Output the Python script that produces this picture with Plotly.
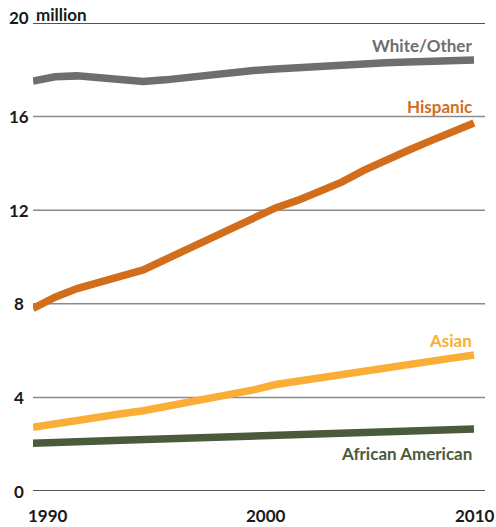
import plotly.graph_objects as go

years = list(range(1990, 2011))
white_other = [17.52, 17.70, 17.74, 17.65, 17.55, 17.50, 17.57, 17.68, 17.80, 17.90, 17.97,
               18.03, 18.10, 18.17, 18.22, 18.25, 18.30, 18.33, 18.36, 18.38, 18.42]
hispanic = [7.80, 8.28, 8.65, 8.95, 9.18, 9.45, 9.90, 10.35, 10.80, 11.25, 11.72,
            12.10, 12.42, 12.80, 13.20, 13.70, 14.15, 14.55, 14.95, 15.32, 15.73]
asian = [2.72, 2.88, 3.04, 3.15, 3.30, 3.43, 3.60, 3.78, 3.98, 4.17, 4.32,
         4.55, 4.70, 4.85, 4.98, 5.15, 5.30, 5.43, 5.55, 5.68, 5.81]
african_american = [2.04, 2.10, 2.13, 2.14, 2.17, 2.20, 2.21, 2.23, 2.26, 2.28, 2.30,
                    2.32, 2.34, 2.38, 2.41, 2.44, 2.46, 2.49, 2.54, 2.59, 2.65]

series_names = ["White/Other", "Hispanic", "Asian", "African American"]
series_values = [white_other, hispanic, asian, african_american]
series_colors = ["#6e6e6e", "#d26d1c", "#fbae35", "#4a5b3c"]
label_y = [19.05, 16.45, 6.45, 1.62]

y_tick_vals = [0, 4, 8, 12, 16, 20]
y_tick_text = ["0", "4", "8", "12", "16", "20"]
x_tick_pos = [1990.68, 2000.57, 2010.05]
x_tick_text = ["1990", "2000", "2010"]

FONT = "Lato"
FS = 17

fig = go.Figure()
for name, vals, col in zip(series_names, series_values, series_colors):
    fig.add_trace(go.Scatter(x=years, y=vals, mode="lines", name=name,
                             line=dict(color=col, width=7.5), showlegend=False,
                             hoverinfo="skip"))

annotations = []
for name, col, ly in zip(series_names, series_colors, label_y):
    annotations.append(dict(x=2010, y=ly, xref="x", yref="y", text=f"<b>{name}</b>",
                            showarrow=False, xanchor="right", yanchor="middle",
                            font=dict(family=FONT, size=FS, color=col)))
for v, t in zip(y_tick_vals, y_tick_text):
    annotations.append(dict(x=-0.031, y=v, xref="paper", yref="y", text=f"<b>{t}</b>",
                            showarrow=False, xanchor="center", yanchor="middle",
                            yshift=6 if v == 20 else 0,
                            font=dict(family=FONT, size=FS, color="#1a1a1a")))
annotations.append(dict(x=0.003, y=20, xref="paper", yref="y", text="<b>million</b>",
                        showarrow=False, xanchor="left", yanchor="bottom", yshift=-4,
                        font=dict(family=FONT, size=FS, color="#1a1a1a")))
for p, t in zip(x_tick_pos, x_tick_text):
    annotations.append(dict(x=p, y=0, xref="x", yref="y", text=f"<b>{t}</b>",
                            showarrow=False, xanchor="center", yanchor="top", yshift=-12,
                            font=dict(family=FONT, size=FS, color="#1a1a1a")))

shapes = []
for v in [4, 8, 12, 16]:
    shapes.append(dict(type="line", xref="paper", yref="y", x0=0, x1=1, y0=v, y1=v,
                       line=dict(color="#8a8a8a", width=1.5), layer="below"))
for v in [0, 20]:
    shapes.append(dict(type="line", xref="paper", yref="y", x0=0, x1=1, y0=v, y1=v,
                       line=dict(color="#1a1a1a", width=1.5), layer="below"))

fig.update_layout(
    width=496, height=527,
    margin=dict(l=33, r=11, t=23, b=36),
    paper_bgcolor="white", plot_bgcolor="white",
    hovermode=False,
    xaxis=dict(range=[1990, 2010.5], showgrid=False, zeroline=False,
               showticklabels=False, ticks="", showline=False),
    yaxis=dict(range=[0, 20], showgrid=False, zeroline=False,
               showticklabels=False, ticks="", showline=False),
    annotations=annotations, shapes=shapes,
)

fig.write_html("out.html", config={"displayModeBar": False, "staticPlot": True},
               post_script="document.body.style.margin='0';document.body.style.overflow='hidden';")
